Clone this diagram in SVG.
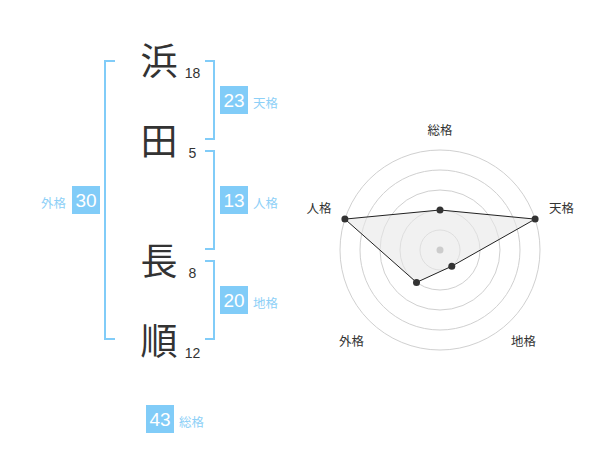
<svg xmlns="http://www.w3.org/2000/svg" width="600" height="470" viewBox="0 0 600 470">
<style>
.ch{font-family:"Noto Sans CJK JP","Noto Sans CJK SC",sans-serif;font-size:37px;fill:#333;text-anchor:middle}
.st{font-family:"Liberation Sans",Arial,sans-serif;font-size:14px;fill:#333;text-anchor:middle}
.br{fill:none;stroke:#81ccf8;stroke-width:2}
.bx{fill:#81ccf8}
.bn{font-family:"Liberation Sans",Arial,sans-serif;font-size:19px;fill:#fff;text-anchor:middle}
.bl{font-family:"Noto Sans CJK JP","Noto Sans CJK SC",sans-serif;font-size:12.5px;fill:#8dd0f7}
.rl{font-family:"Noto Sans CJK JP","Noto Sans CJK SC",sans-serif;font-size:12.5px;fill:#333;text-anchor:middle}
.ring{fill:none;stroke:#d0d0d0;stroke-width:1}
.pt{fill:#333}
</style>
<rect width="600" height="470" fill="#fff"/>
<g id="chars">
<g id="c1"><text class="ch" x="159" y="75">浜</text><text class="st" x="192.5" y="77.5">18</text></g>
<g id="c2"><text class="ch" x="159" y="155">田</text><text class="st" x="192.5" y="157.5">5</text></g>
<g id="c3"><text class="ch" x="159" y="275">長</text><text class="st" x="192.5" y="277.5">8</text></g>
<g id="c4"><text class="ch" x="159" y="355">順</text><text class="st" x="192.5" y="357.5">12</text></g>
</g>
<g id="connectors">
<path class="br" d="M115,61 H105 V339 H115"/>
<path class="br" d="M205,61 H214 V139 H205"/>
<path class="br" d="M205,151 H214 V249 H205"/>
<path class="br" d="M205,261 H214 V339 H205"/>
</g>
<g id="tenkaku"><rect class="bx" x="220" y="86" width="28" height="28"/><text class="bn" x="234" y="107">23</text><text class="bl" x="253" y="107.5">天格</text></g>
<g id="jinkaku"><rect class="bx" x="220" y="186" width="28" height="28"/><text class="bn" x="234" y="207">13</text><text class="bl" x="253" y="207.5">人格</text></g>
<g id="chikaku"><rect class="bx" x="220" y="286" width="28" height="28"/><text class="bn" x="234" y="307">20</text><text class="bl" x="253" y="307.5">地格</text></g>
<g id="gaikaku"><rect class="bx" x="72" y="186" width="28" height="28"/><text class="bn" x="86" y="207">30</text><text class="bl" x="41" y="207.5">外格</text></g>
<g id="soukaku"><rect class="bx" x="146" y="405" width="28" height="28"/><text class="bn" x="160" y="426">43</text><text class="bl" x="179" y="426.5">総格</text></g>
<g id="radar">
<circle class="ring" cx="440" cy="250" r="20"/>
<circle class="ring" cx="440" cy="250" r="40"/>
<circle class="ring" cx="440" cy="250" r="60"/>
<circle class="ring" cx="440" cy="250" r="80"/>
<circle class="ring" cx="440" cy="250" r="100"/>
<polygon points="440,210 535.1,219.1 451.8,266.2 416.5,282.4 344.9,219.1" fill="#e8e8e8" fill-opacity="0.6" stroke="#222" stroke-width="1"/>
<circle cx="440" cy="250" r="3.5" fill="#ccc"/>
<circle class="pt" cx="440" cy="210" r="3.5"/>
<circle class="pt" cx="535.1" cy="219.1" r="3.5"/>
<circle class="pt" cx="451.8" cy="266.2" r="3.5"/>
<circle class="pt" cx="416.5" cy="282.4" r="3.5"/>
<circle class="pt" cx="344.9" cy="219.1" r="3.5"/>
<text class="rl" x="440" y="135">総格</text>
<text class="rl" x="561.5" y="213">天格</text>
<text class="rl" x="319" y="213">人格</text>
<text class="rl" x="351.5" y="346">外格</text>
<text class="rl" x="523.5" y="346">地格</text>
</g>
</svg>
